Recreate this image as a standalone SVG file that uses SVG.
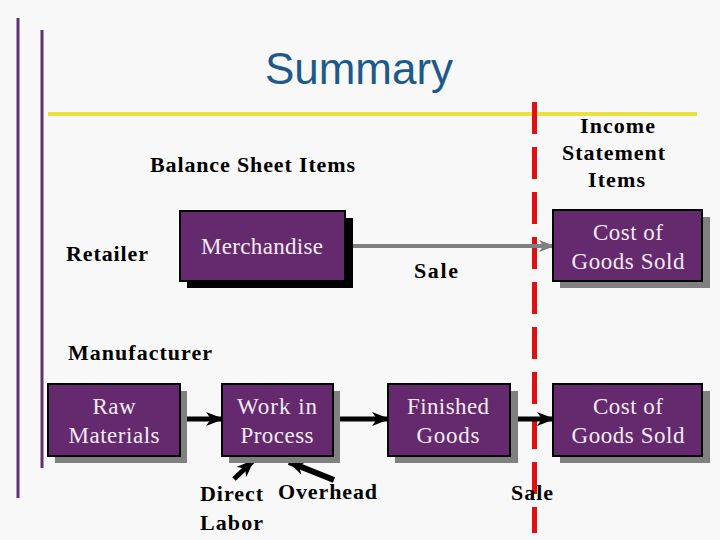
<svg xmlns="http://www.w3.org/2000/svg" width="720" height="540" viewBox="0 0 720 540">
<defs>
<style>
.bg{fill:#f8f8f8}
.box{fill:#652a6e;stroke:#000;stroke-width:2}
.sh{fill:#808080}
.shb{fill:#000}
.bt{font-family:"Liberation Serif",serif;font-size:23px;fill:#f4eaf4;text-anchor:middle}
.lbl{font-family:"Liberation Serif",serif;font-size:22px;fill:#000;font-weight:bold}
.blk{stroke:#000;stroke-width:5;fill:none}
</style>
<marker id="ag" markerWidth="16" markerHeight="12" refX="14" refY="6" orient="auto" markerUnits="userSpaceOnUse">
<path d="M0,0 L16,6 L0,12 L4,6 Z" fill="#808080"/>
</marker>
<marker id="ak" markerWidth="18" markerHeight="14" refX="16" refY="7" orient="auto" markerUnits="userSpaceOnUse">
<path d="M0,0 L18,7 L0,14 L5,7 Z" fill="#000"/>
</marker>
</defs>
<rect class="bg" x="0" y="0" width="720" height="540"/>
<g id="decor">
<line x1="18" y1="18" x2="18" y2="498" stroke="#5e3270" stroke-width="3"/>
<line x1="42" y1="30" x2="42" y2="468" stroke="#5e3270" stroke-width="3"/>
<line x1="48" y1="114" x2="697" y2="114" stroke="#ebe03c" stroke-width="4"/>
<line x1="534.5" y1="102" x2="534.5" y2="533" stroke="#e01010" stroke-width="5" stroke-dasharray="32,13"/>
</g>
<text x="359" y="84" font-family="'Liberation Sans',Arial,sans-serif" font-size="44" fill="#1d5a8c" text-anchor="middle">Summary</text>
<g id="labels">
<text class="lbl" x="580" y="133" textLength="75" lengthAdjust="spacing">Income</text>
<text class="lbl" x="562" y="160" textLength="103" lengthAdjust="spacing">Statement</text>
<text class="lbl" x="588" y="187" textLength="57" lengthAdjust="spacing">Items</text>
<text class="lbl" x="150" y="172" textLength="205" lengthAdjust="spacing">Balance Sheet Items</text>
<text class="lbl" x="66" y="261" textLength="82" lengthAdjust="spacing">Retailer</text>
<text class="lbl" x="68" y="360" textLength="144" lengthAdjust="spacing">Manufacturer</text>
<text class="lbl" x="414" y="278" textLength="44" lengthAdjust="spacing">Sale</text>
<text class="lbl" x="511" y="500" textLength="42" lengthAdjust="spacing">Sale</text>
<text class="lbl" x="200" y="501" textLength="63" lengthAdjust="spacing">Direct</text>
<text class="lbl" x="200" y="530" textLength="63" lengthAdjust="spacing">Labor</text>
<text class="lbl" x="278" y="499" textLength="99" lengthAdjust="spacing">Overhead</text>
</g>
<g id="connectors">
<line x1="345" y1="246" x2="553" y2="246" stroke="#808080" stroke-width="4" marker-end="url(#ag)"/>
<line class="blk" x1="182" y1="419" x2="222" y2="419" marker-end="url(#ak)"/>
<line class="blk" x1="334" y1="419" x2="388" y2="419" marker-end="url(#ak)"/>
<line class="blk" x1="512" y1="419" x2="553" y2="419" marker-end="url(#ak)"/>
<line x1="234" y1="479" x2="253" y2="461" stroke="#000" stroke-width="5" marker-end="url(#ak)"/>
<line x1="334" y1="480" x2="289" y2="462" stroke="#000" stroke-width="6" marker-end="url(#ak)"/>
</g>
<g id="merchandise">
<rect class="shb" x="187" y="218" width="166" height="70"/>
<rect class="box" x="180" y="211" width="165" height="70"/>
<text class="bt" x="262" y="254" textLength="122" lengthAdjust="spacing">Merchandise</text>
</g>
<g id="cogs-top">
<rect class="sh" x="560" y="217" width="150" height="71"/>
<rect class="box" x="553" y="210" width="149" height="71"/>
<text class="bt" x="628" y="240" textLength="70" lengthAdjust="spacing">Cost of</text>
<text class="bt" x="628" y="269" textLength="113" lengthAdjust="spacing">Goods Sold</text>
</g>
<g id="raw">
<rect class="sh" x="55" y="391" width="132" height="72"/>
<rect class="box" x="48" y="384" width="132" height="72"/>
<text class="bt" x="114" y="414" textLength="43" lengthAdjust="spacing">Raw</text>
<text class="bt" x="114" y="443" textLength="91" lengthAdjust="spacing">Materials</text>
</g>
<g id="wip">
<rect class="sh" x="229" y="391" width="111" height="72"/>
<rect class="box" x="222" y="384" width="111" height="72"/>
<text class="bt" x="277" y="414" textLength="80" lengthAdjust="spacing">Work in</text>
<text class="bt" x="277" y="443" textLength="73" lengthAdjust="spacing">Process</text>
</g>
<g id="fg">
<rect class="sh" x="395" y="391" width="123" height="72"/>
<rect class="box" x="388" y="384" width="122" height="72"/>
<text class="bt" x="448" y="414" textLength="82" lengthAdjust="spacing">Finished</text>
<text class="bt" x="448" y="443" textLength="63" lengthAdjust="spacing">Goods</text>
</g>
<g id="cogs-bottom">
<rect class="sh" x="560" y="391" width="150" height="72"/>
<rect class="box" x="553" y="384" width="149" height="72"/>
<text class="bt" x="628" y="414" textLength="70" lengthAdjust="spacing">Cost of</text>
<text class="bt" x="628" y="443" textLength="113" lengthAdjust="spacing">Goods Sold</text>
</g>
</svg>
